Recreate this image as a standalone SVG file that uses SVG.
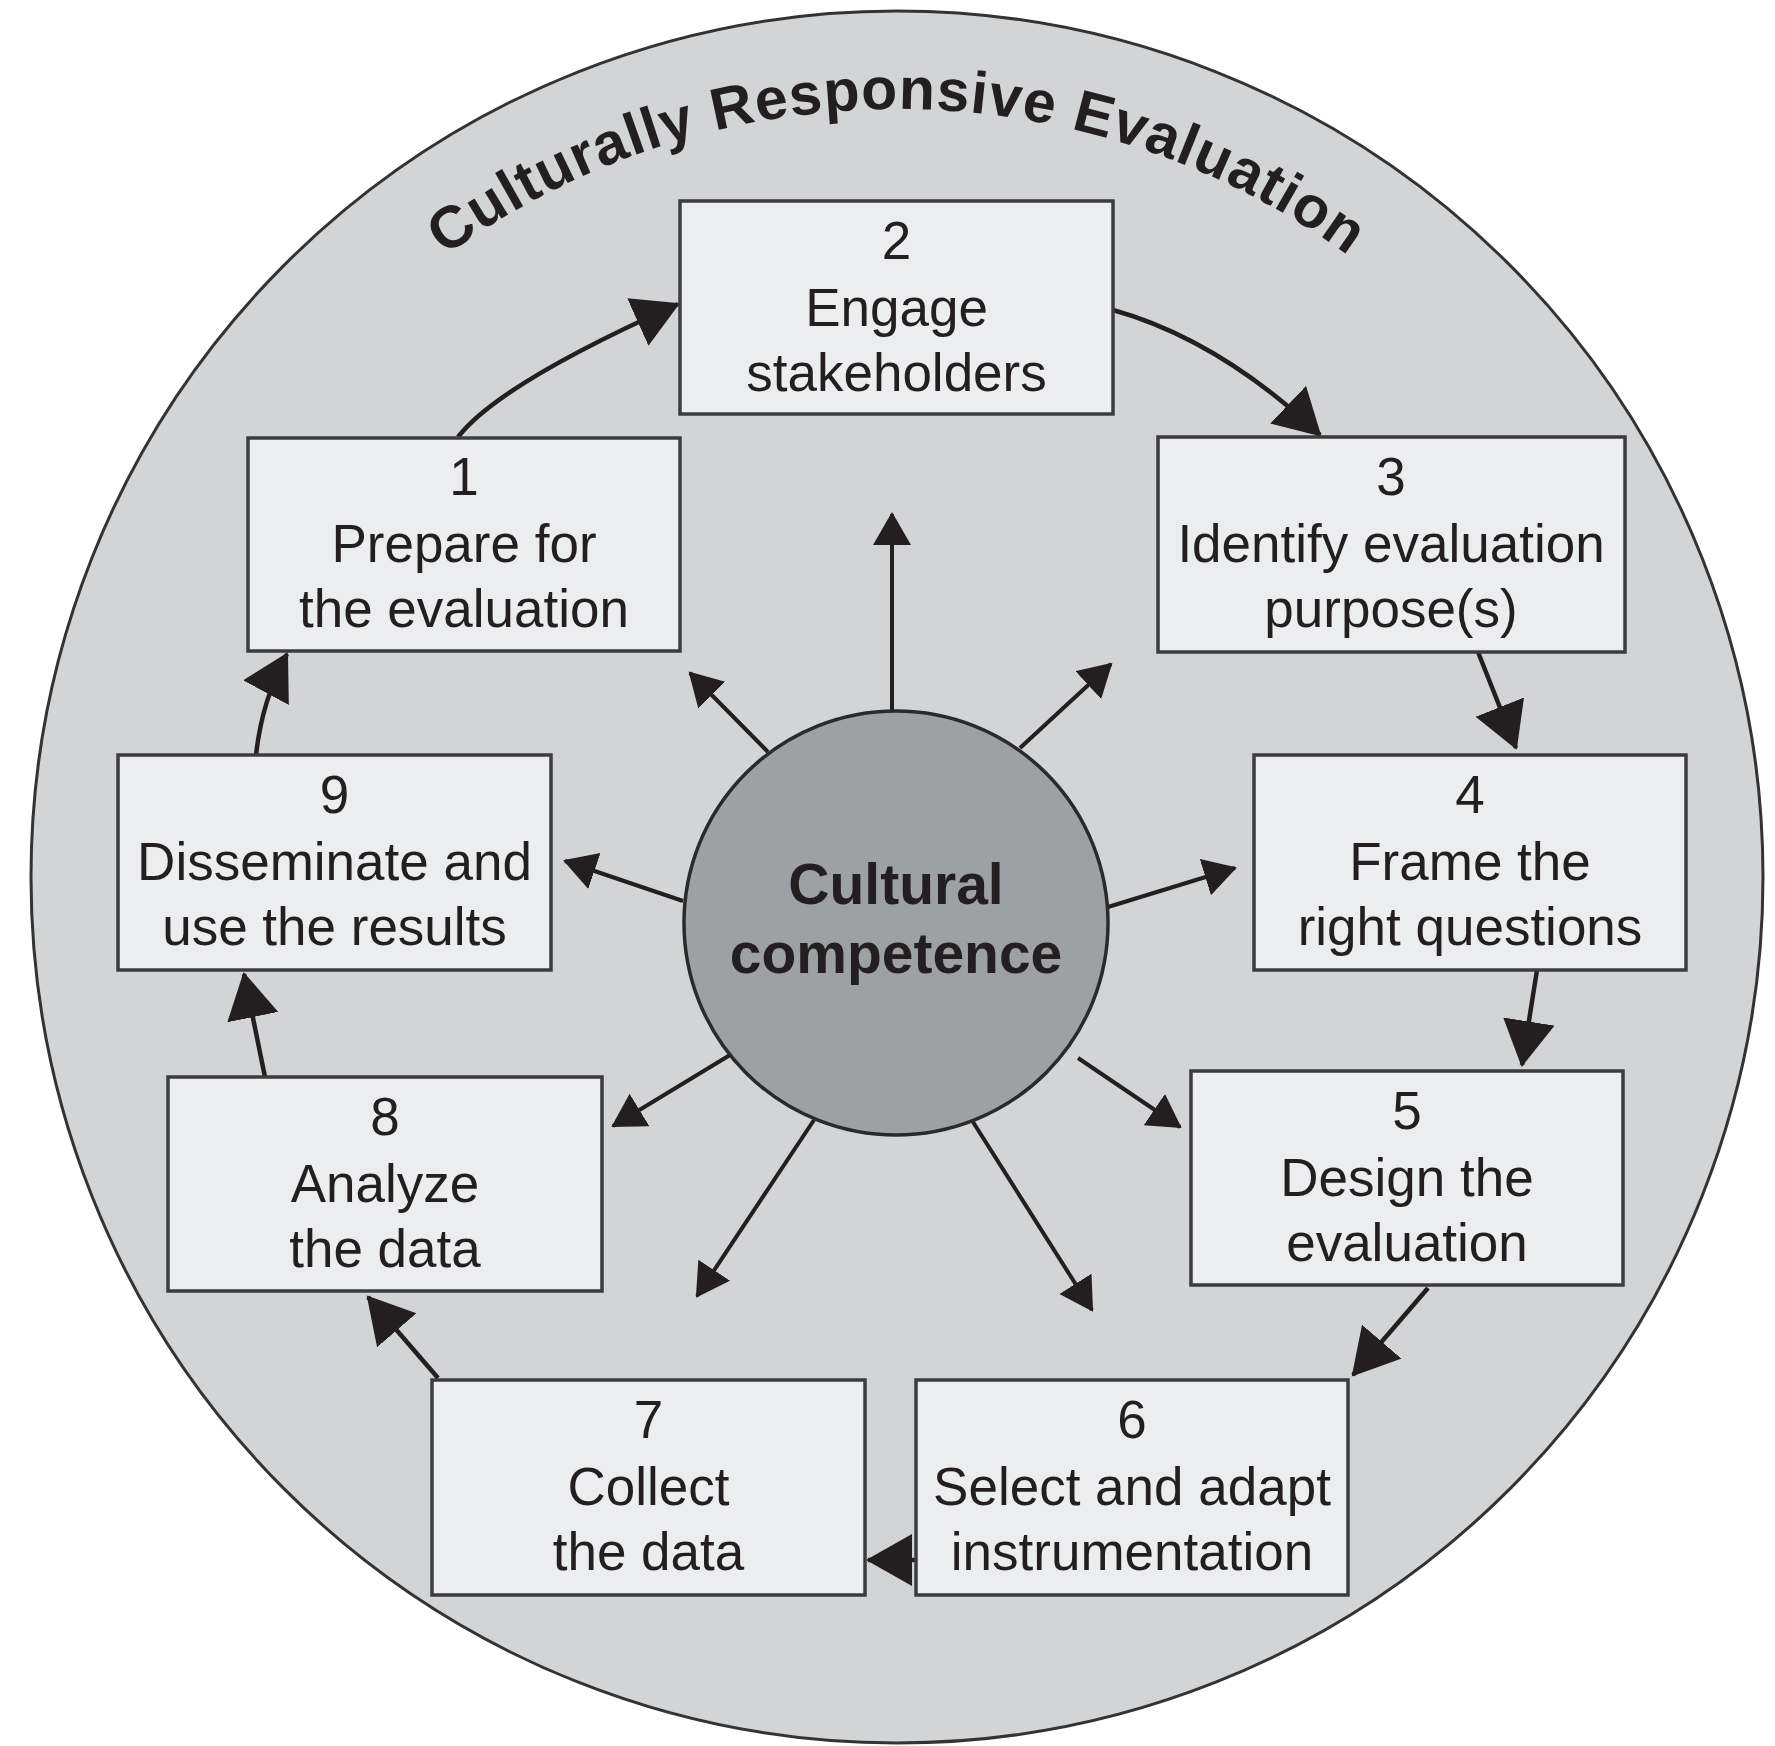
<svg xmlns="http://www.w3.org/2000/svg" xmlns:xlink="http://www.w3.org/1999/xlink" width="1775" height="1746" viewBox="0 0 1775 1746">
<style>
.box{fill:#ecedef;stroke:#3c3c3e;stroke-width:3.5}
.t{font-family:"Liberation Sans",Arial,sans-serif;font-size:53px;fill:#231f20;text-anchor:middle}
.cyc{fill:none;stroke:#231f20;stroke-width:4.5}
.rad{fill:none;stroke:#231f20;stroke-width:4}
</style>
<defs>
<marker id="ah" markerUnits="userSpaceOnUse" markerWidth="50" markerHeight="54" refX="44" refY="26" orient="auto" viewBox="0 0 50 54">
<path d="M0,0 L46,26 L0,52 z" fill="#231f20"/>
</marker>
<marker id="ar" markerUnits="userSpaceOnUse" markerWidth="36" markerHeight="40" refX="31" refY="19" orient="auto" viewBox="0 0 36 40">
<path d="M0,0 L33,19 L0,38 z" fill="#231f20"/>
</marker>
<path id="arc" d="M129,877 A768,768 0 0 1 1665,877"/>
</defs>
<g id="background">
<circle cx="897" cy="877" r="866" fill="#d3d4d6" stroke="#333" stroke-width="3"/>
<text font-family="'Liberation Sans',Arial,sans-serif" font-weight="bold" font-size="59" fill="#231f20" letter-spacing="1" text-anchor="middle"><textPath xlink:href="#arc" href="#arc" startOffset="50%">Culturally Responsive Evaluation</textPath></text>
</g>
<g id="connectors">
<path class="cyc" d="M458,437 Q499,384 678,304" marker-end="url(#ah)"/>
<path class="cyc" d="M1113,310 Q1220,340 1320,435" marker-end="url(#ah)"/>
<path class="cyc" d="M1478,652 L1516,748" marker-end="url(#ah)"/>
<path class="cyc" d="M1537,970 L1522,1065" marker-end="url(#ah)"/>
<path class="cyc" d="M1428,1288 L1353,1375" marker-end="url(#ah)"/>
<path class="cyc" d="M916,1560 L868,1560" marker-end="url(#ah)"/>
<path class="cyc" d="M438,1378 L368,1297" marker-end="url(#ah)"/>
<path class="cyc" d="M265,1077 L244,974" marker-end="url(#ah)"/>
<path class="cyc" d="M256,755 Q262,700 287,654" marker-end="url(#ah)"/>
<path class="rad" d="M892,711 L892,514" marker-end="url(#ar)"/>
<path class="rad" d="M768,752 L690,673" marker-end="url(#ar)"/>
<path class="rad" d="M1020,748 L1111,664" marker-end="url(#ar)"/>
<path class="rad" d="M683,901 L565,861" marker-end="url(#ar)"/>
<path class="rad" d="M1108,907 L1235,868" marker-end="url(#ar)"/>
<path class="rad" d="M730,1055 L613,1126" marker-end="url(#ar)"/>
<path class="rad" d="M1078,1058 L1180,1127" marker-end="url(#ar)"/>
<path class="rad" d="M814,1120 L697,1296" marker-end="url(#ar)"/>
<path class="rad" d="M973,1122 L1092,1310" marker-end="url(#ar)"/>
</g>
<g id="center">
<circle cx="896" cy="923" r="212" fill="#9ea1a4" stroke="#2a2a2a" stroke-width="3.5"/>
<text font-family="'Liberation Sans',Arial,sans-serif" font-weight="bold" font-size="57" fill="#231f20" text-anchor="middle"><tspan x="896" y="904">Cultural</tspan><tspan x="896" y="973">competence</tspan></text>
</g>
<g id="node1">
<rect class="box" x="248" y="438" width="432" height="213"/>
<text class="t"><tspan x="464" y="495">1</tspan><tspan x="464" y="562">Prepare for</tspan><tspan x="464" y="627">the evaluation</tspan></text>
</g>
<g id="node2">
<rect class="box" x="680" y="201" width="433" height="213"/>
<text class="t"><tspan x="896.5" y="259">2</tspan><tspan x="896.5" y="326">Engage</tspan><tspan x="896.5" y="391">stakeholders</tspan></text>
</g>
<g id="node3">
<rect class="box" x="1158" y="437" width="467" height="215"/>
<text class="t"><tspan x="1391" y="495">3</tspan><tspan x="1391" y="562">Identify evaluation</tspan><tspan x="1391" y="627">purpose(s)</tspan></text>
</g>
<g id="node4">
<rect class="box" x="1254" y="755" width="432" height="215"/>
<text class="t"><tspan x="1470" y="813">4</tspan><tspan x="1470" y="880">Frame the</tspan><tspan x="1470" y="945">right questions</tspan></text>
</g>
<g id="node5">
<rect class="box" x="1191" y="1071" width="432" height="214"/>
<text class="t"><tspan x="1407" y="1129">5</tspan><tspan x="1407" y="1196">Design the</tspan><tspan x="1407" y="1261">evaluation</tspan></text>
</g>
<g id="node6">
<rect class="box" x="916" y="1380" width="432" height="215"/>
<text class="t"><tspan x="1132" y="1438">6</tspan><tspan x="1132" y="1505">Select and adapt</tspan><tspan x="1132" y="1570">instrumentation</tspan></text>
</g>
<g id="node7">
<rect class="box" x="432" y="1380" width="433" height="215"/>
<text class="t"><tspan x="648.5" y="1438">7</tspan><tspan x="648.5" y="1505">Collect</tspan><tspan x="648.5" y="1570">the data</tspan></text>
</g>
<g id="node8">
<rect class="box" x="168" y="1077" width="434" height="214"/>
<text class="t"><tspan x="385" y="1135">8</tspan><tspan x="385" y="1202">Analyze</tspan><tspan x="385" y="1267">the data</tspan></text>
</g>
<g id="node9">
<rect class="box" x="118" y="755" width="433" height="215"/>
<text class="t"><tspan x="334.5" y="813">9</tspan><tspan x="334.5" y="880">Disseminate and</tspan><tspan x="334.5" y="945">use the results</tspan></text>
</g>
</svg>
